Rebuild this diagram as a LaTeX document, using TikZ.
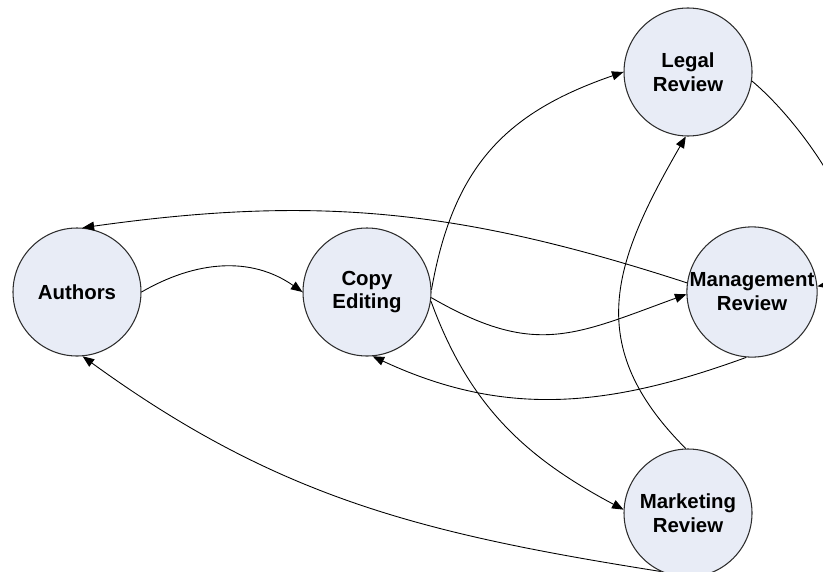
\documentclass[tikz,border=0pt]{standalone}
\usepackage{fontspec}
\setsansfont{Liberation Sans}
\usetikzlibrary{arrows.meta}
\definecolor{stagefill}{RGB}{232,236,246}
\definecolor{stageline}{RGB}{45,45,45}

\tikzset{
  stage/.style={circle, draw=stageline, fill=stagefill, line width=0.6pt,
    minimum size=2.56cm, inner sep=0pt, align=center,
    font=\sffamily\bfseries\fontsize{11.6}{13.6}\selectfont},
  flow/.style={-{Triangle[length=2.3mm,width=1.8mm]}, line width=0.5pt}
}

\begin{document}
\begin{tikzpicture}
    \useasboundingbox (0,0) rectangle (16.46,11.42);

    \node[stage] (authors) at (1.54,5.58) {Authors};
    \node[stage] (copy) at (7.34,5.58) {Copy\\Editing};
    \node[stage] (legal) at (13.76,9.98) {Legal\\Review};
    \node[stage] (mgmt) at (15.04,5.58) {Management\\Review};
    \node[stage] (market) at (13.76,1.16) {Marketing\\Review};

    \draw[flow] (authors.east) to[out=30,in=145] (copy.west);
    \draw[flow] (mgmt.172) to[out=162,in=8] (authors.85);
    \draw[flow] (copy.-5) to[out=-30,in=200,looseness=1.2] (mgmt.182);
    \draw[flow] (mgmt.-95) to[out=200,in=-25] (copy.-85);
    \draw[flow] (copy.2) to[out=80,in=199,looseness=1.1] (legal.west);
    \draw[flow] (copy.-8) to[out=-70,in=152] (market.177);
    \draw[flow] (market.92) to[out=135,in=-120,looseness=1.2] (legal.-92);
    \draw[flow] (market.-115) to[out=171,in=-36] (authors.-85);
    \draw[flow] (legal.-8) to[out=-40,in=10] (mgmt.5);
\end{tikzpicture}
\end{document}
